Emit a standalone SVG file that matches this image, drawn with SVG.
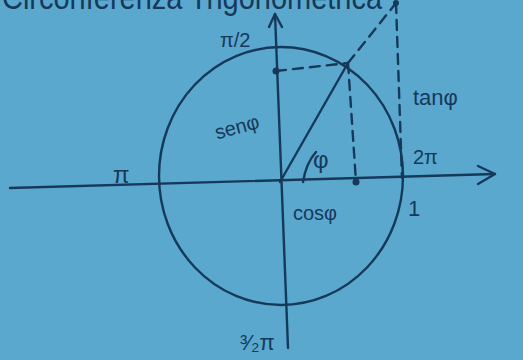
<svg xmlns="http://www.w3.org/2000/svg" width="523" height="360" viewBox="0 0 523 360">
<defs>
<style>
.ink{stroke:#16395a;stroke-width:2.4;fill:none;stroke-linecap:round;stroke-linejoin:round}
.dash{stroke-dasharray:10 7}
.t{fill:#16395a;font-family:"Liberation Sans",Arial,sans-serif}
.dot{fill:#16395a}
</style>
</defs>
<rect width="523" height="360" fill="#5ba8cf"/>
<g id="title"><text class="t" x="2" y="9" font-size="34" textLength="380" lengthAdjust="spacingAndGlyphs">Circonferenza  Trigonometrica</text></g>
<g id="connectors">
<path class="ink" d="M10 188 L495 174"/>
<path class="ink" d="M478 166 L495 174 L478 184"/>
<path class="ink" d="M275 14 L288 348"/>
<path class="ink" d="M269 27 L275 14 L282 27"/>
<path class="ink" d="M280 182 L348 63"/>
<path class="ink dash" d="M276 71 L348 63"/>
<path class="ink dash" d="M348 63 L356 182"/>
<path class="ink dash" d="M348 63 L396 3"/>
<path class="ink dash" d="M396 3 L402 178"/>
<path class="ink" d="M303 182 Q306 163 316 152"/>
</g>
<g id="circle"><ellipse class="ink" cx="281" cy="176" rx="122" ry="129"/></g>
<g id="points">
<circle class="dot" cx="276" cy="71" r="3.5"/>
<circle class="dot" cx="356" cy="182" r="3.5"/>
<circle class="dot" cx="396" cy="3" r="3"/>
</g>
<g id="labels">
<text class="t" x="220" y="47" font-size="20">π/2</text>
<text class="t" x="113" y="183" font-size="24">π</text>
<text class="t" x="214" y="133" font-size="20" transform="rotate(-15 240 125)">senφ</text>
<text class="t" x="313" y="168" font-size="24">φ</text>
<text class="t" x="293" y="220" font-size="20">cosφ</text>
<text class="t" x="413" y="105" font-size="22">tanφ</text>
<text class="t" x="413" y="164" font-size="20">2π</text>
<text class="t" x="408" y="216" font-size="22">1</text>
<text class="t" x="240" y="350" font-size="22">³⁄₂π</text>
</g>
</svg>
